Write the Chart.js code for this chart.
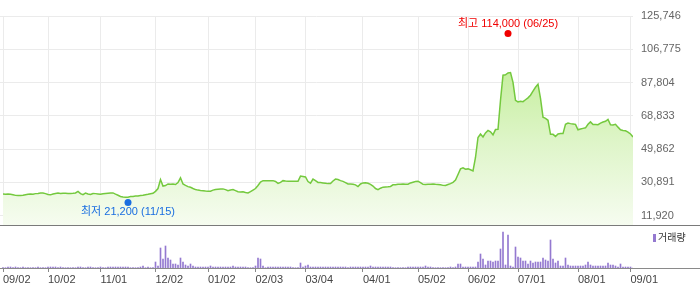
<!DOCTYPE html>
<html>
<head>
<meta charset="utf-8">
<script src="https://cdn.jsdelivr.net/npm/chart.js@4.4.1/dist/chart.umd.min.js"></script>
<style>
body { margin: 0; background: #fff; }
#wrap { position: relative; width: 700px; height: 289px; }
canvas { position: absolute; left: 0; }
#price { top: 0; }
#volume { top: 225px; }
</style>
</head>
<body>
<div id="wrap">
  <canvas id="price" width="700" height="226"></canvas>
  <canvas id="volume" width="700" height="64"></canvas>
</div>
<script>
// trading-day index of each month label
var tickIdx = [0, 18, 39, 61, 82, 101, 121, 144, 166, 186, 206, 230, 251];
var tickLabels = ['09/02', '10/02', '11/01', '12/02', '01/02', '02/03', '03/04',
                  '04/01', '05/02', '06/02', '07/01', '08/01', '09/01'];
var priceTicks = [11920, 30891, 49862, 68833, 87804, 106775, 125746];

// daily close
var prices = [
  24300,24200,24300,24100,23900,23500,23400,23400,23600,23900,
  24200,24300,24100,24500,24600,24800,24900,24500,24000,23800,
  24300,24600,24800,24600,24700,24700,24600,24600,24700,24900,
  25800,24500,23900,24800,24300,24000,24600,24500,24300,24100,
  24400,24600,24700,24800,24900,24200,23600,22900,22600,22400,
  22400,22800,22900,23100,23200,23400,23600,23900,24100,24400,
  24700,25800,27400,32500,28800,29100,30000,29800,30000,29700,
  30800,33500,30000,29200,28500,28100,27400,26800,26500,26300,
  26200,26000,25900,25900,26500,26900,27000,27100,27200,26800,
  26200,26600,26800,26200,25600,25400,25500,25100,24900,25600,
  26500,27400,29100,31100,31900,31800,31800,31900,31900,31400,
  30300,30900,31900,31700,31600,31500,31500,31500,31500,34500,
  34300,34000,31400,30500,32800,31900,30900,30800,30600,30400,
  30200,30200,31700,32800,32500,31900,31500,30800,30000,30000,
  29800,29500,28500,30000,30600,30700,30400,29800,28800,27400,
  26800,27600,28200,28300,28400,28600,29500,29600,29800,29900,
  30000,29800,29900,30600,31000,31400,31500,30800,29800,29700,
  29800,29900,30000,29800,29700,29500,29200,29100,29700,30200,
  30900,32200,35400,38600,39200,38400,38600,38100,37400,45100,
  56500,58500,56800,59100,60500,59700,58000,61000,61100,77700,
  92000,92200,93300,93500,87900,77700,76800,77100,76900,78000,
  79100,80600,82900,85100,86900,78800,68100,67400,66300,58300,
  58300,57100,58500,58700,58700,64000,64700,64400,64200,64000,
  60900,61300,61700,62000,64000,65400,63900,63900,63800,64700,
  65300,65700,66800,63700,63600,64000,62400,60900,60500,60300,
  59600,58500,56800
];

// daily volume (thousand shares)
var volumes = [
  30,30,100,100,30,100,30,30,100,30,
  30,30,30,30,100,30,30,30,100,100,
  100,100,30,100,30,30,30,30,30,30,
  100,100,30,30,100,100,30,30,30,100,
  30,30,100,100,100,100,100,100,100,100,
  100,30,30,30,30,100,200,30,100,30,
  30,600,200,2000,900,2200,1000,800,400,400,
  300,1000,600,300,200,400,200,100,100,100,
  100,100,100,200,100,100,100,100,100,100,
  100,100,200,100,100,100,100,100,30,30,
  30,200,1000,900,200,30,100,100,100,100,
  100,100,100,100,100,100,30,30,30,500,
  100,200,300,100,100,100,100,100,100,100,
  100,100,100,100,100,100,100,100,30,100,
  100,100,100,100,100,100,100,200,100,100,
  100,100,100,100,100,100,30,30,30,30,
  30,30,100,100,100,100,100,100,100,200,
  100,100,30,30,30,30,30,30,30,100,
  30,100,400,400,100,100,100,100,100,100,
  600,1400,900,300,700,700,600,700,700,1900,
  3600,300,3300,200,100,2100,1100,1000,700,700,
  400,700,500,600,600,600,1000,800,700,2800,
  900,500,700,200,200,1000,300,200,200,200,
  200,200,200,300,600,300,200,200,200,200,
  200,200,500,300,300,200,100,400,100,100,
  100,100,0
];

var highIdx = 202, highValue = 114000, highText = '최고 114,000 (06/25)';
var lowIdx = 50, lowValue = 21200, lowText = '최저 21,200 (11/15)';

var FONT = "'Liberation Sans', 'Noto Sans CJK KR', sans-serif";
Chart.defaults.font.family = FONT;
Chart.defaults.font.size = 11;

function setTicks(list) {
  return function (scale) {
    scale.ticks = list.map(function (v) { return { value: v }; });
  };
}

function fillGradient(context) {
  var ca = context.chart.chartArea;
  if (!ca) return 'rgba(0,0,0,0)';
  var g = context.chart.ctx.createLinearGradient(0, ca.top, 0, ca.bottom);
  g.addColorStop(0, '#bde992');
  g.addColorStop(0.3, '#c9efa4');
  g.addColorStop(0.6, '#def5c8');
  g.addColorStop(1, '#f6fcf0');
  return g;
}

var markers = {
  id: 'markers',
  afterDatasetsDraw: function (chart) {
    var ctx = chart.ctx, xs = chart.scales.x, ys = chart.scales.y;
    function mark(idx, val, text, color, dir) {
      var x = xs.getPixelForValue(idx);
      var y = ys.getPixelForValue(val) + dir * 3;
      ctx.save();
      ctx.fillStyle = color;
      ctx.beginPath();
      ctx.arc(x, y, 3.5, 0, Math.PI * 2);
      ctx.fill();
      ctx.font = '11px ' + FONT;
      ctx.textAlign = 'center';
      ctx.textBaseline = 'middle';
      ctx.fillText(text, x, y + dir * 10);
      ctx.restore();
    }
    mark(highIdx, highValue, highText, '#f00000', -1);
    mark(lowIdx, lowValue, lowText, '#1a6ee0', 1);

    // divider under the price area
    ctx.save();
    ctx.strokeStyle = '#7a7a7a';
    ctx.lineWidth = 1;
    ctx.beginPath();
    ctx.moveTo(0, chart.chartArea.bottom + 0.5);
    ctx.lineTo(chart.width, chart.chartArea.bottom + 0.5);
    ctx.stroke();
    ctx.restore();
  }
};

var volDecor = {
  id: 'volDecor',
  afterDraw: function (chart) {
    var ctx = chart.ctx, ca = chart.chartArea;
    ctx.save();
    ctx.strokeStyle = '#8a8a8a';
    ctx.beginPath();
    ctx.moveTo(0, ca.bottom + 0.5);
    ctx.lineTo(chart.width, ca.bottom + 0.5);
    ctx.stroke();
    // legend
    ctx.fillStyle = '#9479d0';
    ctx.fillRect(ca.right + 20, 9, 3, 8);
    ctx.fillStyle = '#333';
    ctx.font = '10px ' + FONT;
    ctx.textAlign = 'left';
    ctx.textBaseline = 'middle';
    ctx.fillText('거래량', ca.right + 25, 13.5);
    ctx.restore();
  }
};

new Chart(document.getElementById('price'), {
  type: 'line',
  data: {
    datasets: [{
      data: prices.map(function (v, i) { return { x: i, y: v }; }),
      borderColor: '#74c93e',
      borderWidth: 1.5,
      pointRadius: 0,
      tension: 0,
      fill: 'start',
      backgroundColor: fillGradient
    }]
  },
  options: {
    responsive: false,
    animation: false,
    devicePixelRatio: 1,
    layout: { padding: { top: 16, left: 0, right: 0, bottom: 0 } },
    plugins: { legend: { display: false }, tooltip: { enabled: false } },
    scales: {
      x: {
        type: 'linear', min: -1.2, max: 252,
        afterBuildTicks: setTicks(tickIdx),
        afterFit: function (s) { s.height = 1; },
        ticks: { display: false },
        grid: { color: '#ebebeb', drawTicks: false },
        border: { display: false }
      },
      y: {
        position: 'right', min: 6616, max: 125746,
        afterBuildTicks: setTicks(priceTicks),
        afterFit: function (s) { s.width = 67; s.paddingTop = 0; s.paddingBottom = 0; },
        ticks: {
          color: '#666', padding: 8,
          callback: function (v) { return v.toLocaleString('en-US'); }
        },
        grid: { color: '#ebebeb', drawTicks: false },
        border: { display: false }
      }
    }
  },
  plugins: [markers]
});

new Chart(document.getElementById('volume'), {
  type: 'bar',
  data: {
    datasets: [{
      data: volumes.map(function (v, i) { return { x: i, y: v }; }),
      backgroundColor: '#9479d0',
      barThickness: 1
    }]
  },
  options: {
    responsive: false,
    animation: false,
    devicePixelRatio: 1,
    layout: { padding: { top: 3, left: 0, right: 0, bottom: 0 } },
    plugins: { legend: { display: false }, tooltip: { enabled: false } },
    scales: {
      x: {
        type: 'linear', min: -1.2, max: 252, offset: false,
        afterBuildTicks: setTicks(tickIdx),
        afterFit: function (s) { s.height = 21; },
        ticks: {
          align: 'start', autoSkip: false, maxRotation: 0, color: '#444', padding: 1,
          callback: function (v) {
            var k = tickIdx.indexOf(v);
            return k >= 0 ? tickLabels[k] : '';
          }
        },
        grid: { drawOnChartArea: false, offset: false, tickLength: 4, color: '#888' },
        border: { display: false }
      },
      y: {
        position: 'right', min: 0, max: 4000,
        afterFit: function (s) { s.width = 67; },
        ticks: { display: false },
        grid: { display: false },
        border: { display: false }
      }
    }
  },
  plugins: [volDecor]
});
</script>
</body>
</html>
